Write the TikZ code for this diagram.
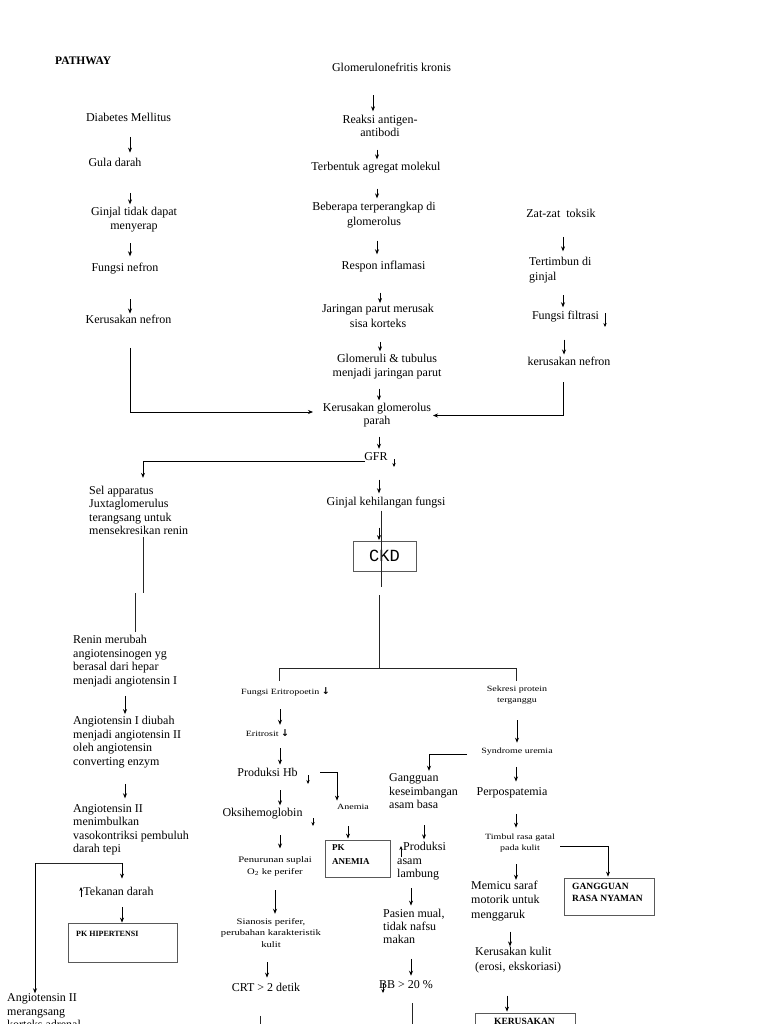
\documentclass[tikz,border=0pt]{standalone}
\usepackage{fontspec}
\setmainfont{Liberation Serif}
\newfontfamily\smallf[FakeStretch=1.25]{Liberation Serif}
\newfontfamily\monof{Liberation Mono}
\newfontfamily\symf{DejaVu Sans}
\usetikzlibrary{arrows.meta}
\newcommand\varr[5]{\draw[arr,shorten <=#4pt,shorten >=#5pt] (#1.south -| #3,0) -- (#2.north -| #3,0);}
\newcommand\dnarr{{\symf\bfseries\fontsize{9.5}{8}\selectfont ↓}}
\begin{document}
\begin{tikzpicture}[x=1pt,y=-1pt,
  txt/.style={inner sep=0.5pt, font=\fontsize{12}{13.5}\selectfont},
  sm/.style={inner sep=0.5pt, font=\smallf\fontsize{8}{11.5}\selectfont},
  bsm/.style={inner sep=0.5pt, font=\bfseries\fontsize{8}{10}\selectfont},
  box/.style={draw=black!65, line width=0.8pt, inner sep=0pt},
  arr/.style={draw=black, line width=0.7pt, -{Stealth[length=5pt,width=4pt]}},
  ln/.style={draw=black!85, line width=0.7pt},
  tick/.style={draw=black, line width=0.6pt, -{Stealth[length=4pt,width=3.4pt]}}]
\useasboundingbox (0,0) rectangle (768,1024);
\fill[white] (0,0) rectangle (768,1024);
\clip (0,0) rectangle (768,1024);

% ---------- top left column
\node[txt, font=\bfseries\fontsize{11.5}{13}\selectfont, anchor=west] (pw) at (54.5,61) {PATHWAY};
\node[txt] (dm) at (128.5,117) {Diabetes Mellitus};
\node[txt] (gd) at (115,162) {Gula darah};
\node[txt, align=center, font=\fontsize{12}{14}\selectfont] (gj) at (134,220) {Ginjal tidak dapat\\menyerap};
\node[txt] (fn) at (125,269) {Fungsi nefron};
\node[txt] (kn) at (128.5,319) {Kerusakan nefron};

% ---------- top middle column
\node[txt] (gk) at (391.5,67) {Glomerulonefritis kronis};
\node[txt, align=center, font=\fontsize{12}{12.5}\selectfont] (ra) at (380,126) {Reaksi antigen-\\antibodi};
\node[txt] (ta) at (376,168) {Terbentuk agregat molekul};
\node[txt, align=center, font=\fontsize{12}{15}\selectfont] (bt) at (374,215.5) {Beberapa terperangkap di\\glomerolus};
\node[txt] (ri) at (383.5,267) {Respon inflamasi};
\node[txt, align=center, font=\fontsize{12}{15}\selectfont] (jp) at (378,315.5) {Jaringan parut merusak\\sisa korteks};
\node[txt, align=center, font=\fontsize{12}{14}\selectfont] (gt) at (387,367) {Glomeruli \& tubulus\\menjadi jaringan parut};
\node[txt, align=center, font=\fontsize{12}{13}\selectfont] (kg) at (377,415.5) {Kerusakan glomerolus\\parah};
\node[txt] (gfr) at (376,457) {GFR};
\node[txt] (gkf) at (386,503) {Ginjal kehilangan fungsi};
\node[box, minimum width=63pt, minimum height=30pt, font=\monof\fontsize{17}{17}\selectfont] (ckd) at (384.5,556) {CKD};

% ---------- top right column
\node[txt] (zt) at (561,213) {Zat-zat\ \ toksik};
\node[txt, align=left, anchor=west, font=\fontsize{12}{15}\selectfont] (tg) at (528.5,270.5) {Tertimbun di\\ginjal};
\node[txt] (ff) at (565.5,317) {Fungsi filtrasi};
\node[txt] (kn2) at (569,361) {kerusakan nefron};

% ---------- lower left column
\node[txt, align=left, anchor=west, font=\fontsize{12}{13.5}\selectfont] (sa) at (88.5,510.5) {Sel apparatus\\Juxtaglomerulus\\terangsang untuk\\mensekresikan renin};
\node[txt, align=left, anchor=west] (rm) at (72.5,661) {Renin merubah\\angiotensinogen yg\\berasal dari hepar\\menjadi angiotensin I};
\node[txt, align=left, anchor=west] (ai) at (72.5,742) {Angiotensin I diubah\\menjadi angiotensin II\\oleh angiotensin\\converting enzym};
\node[txt, align=left, anchor=west] (a2) at (72.5,830) {Angiotensin II\\menimbulkan\\vasokontriksi pembuluh\\darah tepi};
\node[txt] (td) at (118.5,891) {Tekanan darah};
\node[box, minimum width=109pt, minimum height=39pt] (pkh) at (122.5,942.5) {};
\node[bsm, anchor=west] (pkht) at (75.5,934) {PK HIPERTENSI};
\node[txt, align=left, anchor=west] (am) at (6.5,1011.5) {Angiotensin II\\merangsang\\korteks adrenal};

% ---------- lower middle columns
\node[sm] (fe) at (285.5,692) {Fungsi Eritropoetin \dnarr};
\node[sm] (er) at (267.5,733) {Eritrosit \dnarr};
\node[txt] (ph) at (267.5,772) {Produksi Hb};
\node[sm] (an) at (353,807) {Anemia};
\node[box, minimum width=65pt, minimum height=37pt] (pka) at (357.5,858.5) {};
\node[bsm, align=left, anchor=west, font=\bfseries\fontsize{9}{14}\selectfont] (pkat) at (331.5,855) {PK\\ANEMIA};
\node[txt] (ok) at (262.5,814) {Oksihemoglobin};
\node[sm, align=center, font=\smallf\fontsize{8.5}{12}\selectfont] (ps) at (275,866) {Penurunan suplai\\O\textsubscript{2} ke perifer};
\node[sm, align=center, font=\smallf\fontsize{8.5}{11.5}\selectfont] (si) at (271,933) {Sianosis perifer,\\perubahan karakteristik\\kulit};
\node[txt] (crt) at (266,987) {CRT > 2 detik};

\node[txt, align=left, anchor=west] (gkb) at (388.5,791.5) {Gangguan\\keseimbangan\\asam basa};
\node[txt, align=left, anchor=west] (pal) at (396.5,861.5) {\hspace*{6pt}Produksi\\asam\\lambung};
\node[txt, align=left, anchor=west, font=\fontsize{12}{13}\selectfont] (pm) at (382.5,926) {Pasien mual,\\tidak nafsu\\makan};
\node[txt] (bb) at (406,985) {BB > 20 \%};

% ---------- lower right column
\node[sm, align=center] (sp) at (517,695) {Sekresi protein\\terganggu};
\node[sm] (su) at (517,752) {Syndrome uremia};
\node[txt] (pp) at (512,793) {Perpospatemia};
\node[sm, align=center, font=\smallf\fontsize{8}{11}\selectfont] (tr) at (520,843.5) {Timbul rasa gatal\\pada kulit};
\node[box, minimum width=90pt, minimum height=37pt] (grn) at (609,896.5) {};
\node[bsm, align=left, anchor=west, font=\bfseries\fontsize{9.5}{11.5}\selectfont] (grnt) at (571.5,892.5) {GANGGUAN\\RASA NYAMAN};
\node[txt, align=left, anchor=west, font=\fontsize{12}{14.5}\selectfont] (ms) at (470.5,901) {Memicu saraf\\motorik untuk\\menggaruk};
\node[txt, align=left, anchor=west, font=\fontsize{12}{15}\selectfont] (kk) at (474.5,960.5) {Kerusakan kulit\\(erosi, ekskoriasi)};
\node[box, minimum width=100pt, minimum height=44pt] (kbox) at (525,1035) {};
\node[bsm, font=\bfseries\fontsize{9.5}{11}\selectfont] (kboxt) at (524.5,1021) {KERUSAKAN};

% ---------- coordinates
\coordinate (br) at (379,668);
\coordinate (brl) at (279,668);
\coordinate (brr) at (516,668);
\coordinate (j1) at (143,593);
\coordinate (j2) at (135,593);
\coordinate (hl) at (35,863);
\coordinate (hr) at (122,863);
\coordinate (crtend) at (260,1030);
\coordinate (bbend) at (412,1030);

% ---------- connectors: top
\varr{dm}{gd}{130}{15}{4.5}
\varr{gd}{gj}{130}{26}{2.5}
\varr{gj}{fn}{130}{10}{6.5}
\varr{fn}{kn}{130}{24}{0.5}
\draw[arr, shorten <=24pt] (kn.south -| 130,0) |- ([xshift=-64pt,yshift=3.5pt]kg.center);

\varr{gk}{ra}{373}{23.5}{3.5}
\varr{ra}{ta}{377}{12.5}{2.5}
\varr{ta}{bt}{377}{14.5}{3.5}
\varr{bt}{ri}{377}{11.5}{6.5}
\varr{ri}{jp}{380}{19.5}{0}
\varr{jp}{gt}{380}{14}{2.5}
\varr{gt}{kg}{379}{8.5}{2.5}
\varr{kg}{gfr}{379}{8.5}{3.5}
\varr{gfr}{gkf}{379}{18}{3.5}
\varr{gkf}{ckd}{379}{18.5}{0.5}

\varr{zt}{tg}{563}{19}{5.5}
\varr{tg}{ff}{563}{11}{3.5}
\varr{ff}{kn2}{564}{16.5}{1.5}
\draw[arr, shorten <=16.5pt] (kn2.south -| 563,0) |- ([xshift=56pt]kg.center);

\draw[arr, shorten >=7.5pt] ([xshift=-11pt,yshift=-4pt]gfr.center) -| (sa.north -| 143,0);

% CKD and branch
\draw[ln, shorten <=1.5pt, shorten >=-16pt] (gkf.south -| 381,0) -- (ckd.south -| 381,0);
\draw[ln, shorten <=24pt] (ckd.south -| br) -- (br);
\draw[ln] (brl) -- (brr);
\draw[ln, shorten >=5.5pt] (brl) -- (fe.north -| brl);
\draw[ln, shorten >=4pt] (brr) -- (sp.north -| brr);

% ---------- connectors: lower left
\draw[ln, shorten <=1.5pt] (sa.south -| j1) -- (j1);
\draw[ln, shorten >=2.5pt] (j2) -- (rm.north -| j2);
\varr{rm}{ai}{125}{8.5}{1.5}
\varr{ai}{a2}{125}{15.5}{5.5}
\draw[ln] (hl) -- (hr);
\draw[arr, shorten >=7.5pt] (hr) -- (td.north -| hr);
\draw[arr] (hl) -- (am.north -| hl);
\varr{td}{pkh}{122}{11.5}{0}

% ---------- connectors: lower middle
\varr{fe}{er}{280}{12}{4}
\varr{er}{ph}{280}{11}{2.5}
\varr{ph}{ok}{280}{13.5}{2.5}
\varr{ok}{ps}{280}{15}{7}
\varr{ps}{si}{275}{13.5}{4}
\varr{si}{crt}{267}{14}{4.5}
\draw[ln, shorten <=24pt] (crt.south -| crtend) -- (crtend);
\draw[arr, shorten >=3pt] ([xshift=52.5pt]ph.center) -| (an.north -| 337,0);
\varr{an}{pka}{348}{16}{1}

\draw[arr, shorten >=2.5pt] ([xshift=-50pt,yshift=-2pt]su.center) -| (gkb.north -| 429,0);
\varr{gkb}{pal}{424}{15.5}{2.5}
\varr{pal}{pm}{411}{7}{2.5}
\varr{pm}{bb}{411}{15}{4.5}
\draw[ln, shorten <=13.5pt] (bb.south -| bbend) -- (bbend);

% ---------- connectors: lower right
\varr{sp}{su}{517}{15}{5}
\varr{su}{pp}{516}{10.5}{5.5}
\varr{pp}{tr}{516}{15}{6}
\draw[arr, shorten >=1pt] ([xshift=40pt,yshift=-2.5pt]tr.center) -| (grn.north -| 608,0);
\varr{tr}{ms}{516}{11}{0.5}
\varr{ms}{kk}{510}{10}{0.5}
\varr{kk}{kbox}{507}{21.5}{1}

% ---------- small arrows beside texts
\draw[tick] ([xshift=18pt,yshift=-2pt]gfr.center) -- ([xshift=18pt,yshift=-10pt]gfr.center);
\draw[tick] ([xshift=39.5pt,yshift=4pt]ff.center) -- ([xshift=39.5pt,yshift=-10pt]ff.center);
\draw[tick] ([xshift=40.5pt,yshift=-3pt]ph.center) -- ([xshift=40.5pt,yshift=-12pt]ph.center);
\draw[tick] ([xshift=50.5pt,yshift=-4pt]ok.center) -- ([xshift=50.5pt,yshift=-12pt]ok.center);
\draw[tick] ([xshift=-37.5pt,yshift=-6pt]td.center) -- ([xshift=-37.5pt,yshift=4pt]td.center);
\draw[tick] ([xshift=4.5pt,yshift=4.5pt]pal.west) -- ([xshift=4.5pt,yshift=15.5pt]pal.west);
\draw[tick] ([xshift=-23pt,yshift=2pt]bb.center) -- ([xshift=-23pt,yshift=-8pt]bb.center);
\end{tikzpicture}
\end{document}
